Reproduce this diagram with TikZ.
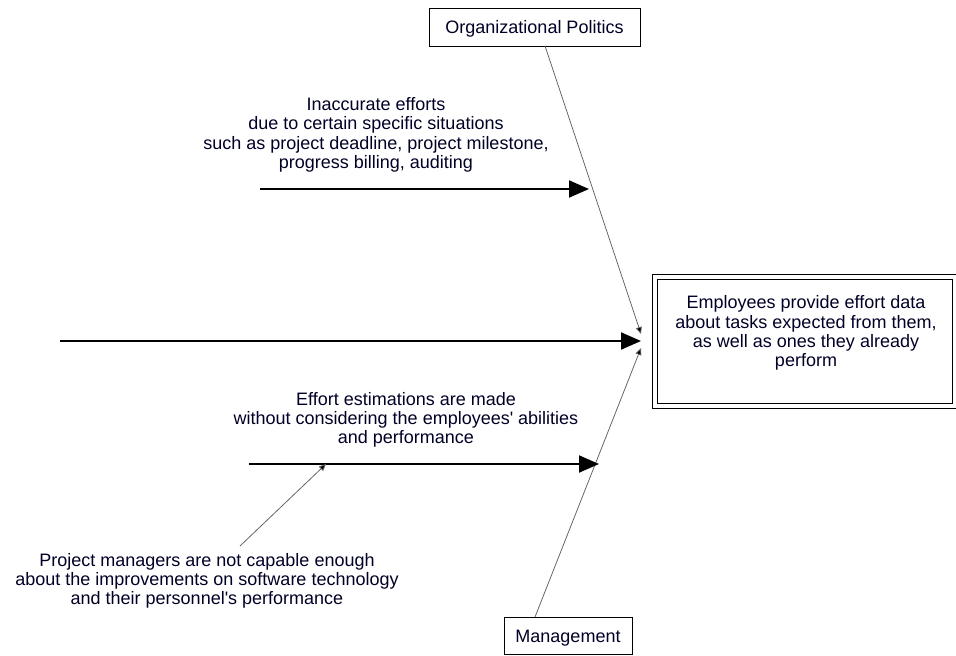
\documentclass[tikz,border=0pt]{standalone}
\usepackage{fontspec}
\setmainfont{Liberation Sans}[Ligatures=TeXOff]
\usetikzlibrary{arrows.meta}
\begin{document}
\begin{tikzpicture}[x=1pt,y=-1pt,
  txt/.style={align=center,font=\fontsize{18}{19.3}\selectfont,text=black!85!blue,inner sep=0pt},
  boxn/.style={draw,line width=1pt,font=\fontsize{18}{19.3}\selectfont,text=black!85!blue,inner sep=0pt},
  bigarrow/.style={line width=2pt,-{Triangle[length=20pt,width=17pt]}},
  thin/.style={draw=black!60,line width=0.8pt},
  smallhead/.style={-{Triangle[length=7pt,width=6pt,fill=black]}}]
\useasboundingbox (0,0) rectangle (956,656);
% boxes
\node[boxn,minimum width=211,minimum height=38] (org) at (534.5,27) {};
\node[txt] (orgtxt) at (534.5,29) {Organizational Politics};
\node[boxn,minimum width=128,minimum height=37] (mgmt) at (568,635.5) {};
\node[txt] (mgmttxt) at (568,638) {Management};
\draw[line width=1pt] (652,274) rectangle (956,408);
\node[draw,line width=1pt,minimum width=295,minimum height=124,inner sep=0pt] (effect) at (804.5,341) {};
\node[txt] (efftxt) at (806,333) {Employees provide effort data\\about tasks expected from them,\\ as well as ones they already\\perform};
% spine
\coordinate (tail) at (60,341);
\coordinate (head) at (641,341);
\draw[bigarrow] (tail) -- (head);
% diagonals
\coordinate (orgfoot) at (545,46);
\coordinate (mgmttop) at (535,617);
\draw[thin,smallhead] (orgfoot) -- (641,334);
\draw[thin,smallhead] (mgmttop) -- (641,348);
% upper branch
\coordinate (u1) at (260,189);
\coordinate (u2) at (589,189);
\draw[bigarrow] (u1) -- (u2);
\node[txt] (utxt) at (376,135) {Inaccurate efforts\\due to certain specific situations\\such as project deadline, project milestone,\\progress billing, auditing};
% lower branch
\coordinate (l1) at (249,464);
\coordinate (l2) at (599,464);
\draw[bigarrow] (l1) -- (l2);
\node[txt] (ltxt) at (406,420) {Effort estimations are made\\without considering the employees' abilities\\and performance};
% sub cause
\node[txt] (stxt) at (207,581) {Project managers are not capable enough\\about the improvements on software technology\\and their personnel's performance};
\coordinate (s1) at (240,546);
\coordinate (s2) at (326,464);
\draw[thin,smallhead] (s1) -- (s2);
\end{tikzpicture}
\end{document}
